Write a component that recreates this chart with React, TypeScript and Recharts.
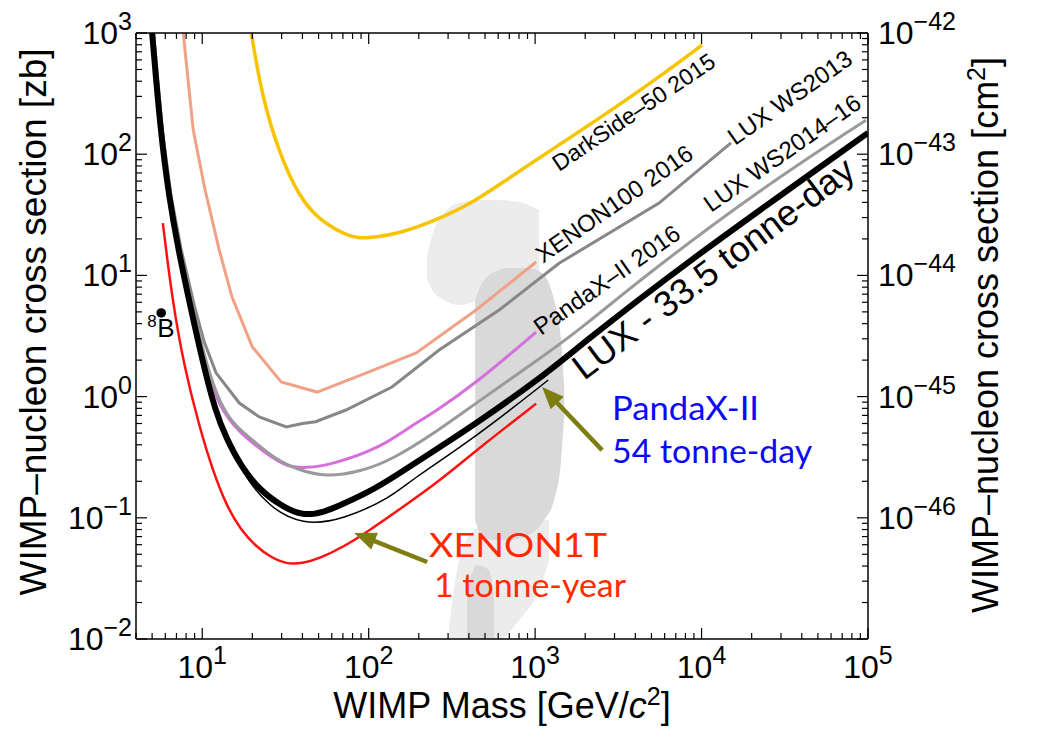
import React from 'react';
import {
  ComposedChart,
  Line,
  Area,
  Scatter,
  XAxis,
  YAxis,
  ReferenceLine,
  ReferenceDot,
} from 'recharts';

// ---------------- data (WIMP mass in GeV/c^2, cross section in zb) ----------------
const darksideMass = [19.7, 22.9, 29, 38.2, 50.4, 76.4, 96.6, 159, 254, 401, 698, 1337, 3066, 6120, 10070];
const darksideXsec = [1000, 296, 102, 44.4, 28.6, 20.7, 20, 22.4, 28.6, 38.1, 63.6, 115, 245, 477, 796];

const xenon100Mass = [7.69, 8.83, 10.4, 12.65, 15.1, 20, 29.8, 49, 97, 193, 442, 1014];
const xenon100Xsec = [1000, 158, 50.7, 16.2, 6.63, 2.57, 1.32, 1.09, 1.57, 2.29, 5.18, 12.9];

const lux2013Mass = [5.1, 5.75, 6.5, 7.5, 9.0, 10.3, 12.1, 16.7, 22, 32, 40, 48, 73, 138, 265, 608, 1393, 5556, 15030];
const lux2013Xsec = [1000, 160, 45, 16, 5.5, 2.8, 1.57, 0.885, 0.68, 0.561, 0.6, 0.62, 0.775, 1.2, 2.42, 5.18, 12.6, 39.5, 124];

const pandax2016Mass = [5.05, 5.65, 6.35, 7.3, 8.65, 10.2, 12.4, 16.7, 24, 32, 42, 60, 120, 175, 240, 442, 1014];
const pandax2016Xsec = [1000, 160, 45, 16, 5.5, 2.0, 0.85, 0.5, 0.343, 0.263, 0.257, 0.274, 0.384, 0.561, 0.72, 1.29, 3.41];

const lux1416Mass = [5.08, 5.7, 6.4, 7.35, 8.75, 10.4, 12.8, 16, 20, 27.8, 38, 55, 88, 138, 265, 442, 1100, 1840, 4390, 22140, 97200];
const lux1416Xsec = [1000, 160, 45, 16, 5.5, 2.0, 0.85, 0.56, 0.439, 0.3, 0.248, 0.217, 0.239, 0.3, 0.53, 0.885, 2.12, 3.54, 9.52, 50.7, 191];

const xenon1tMass = [5.8, 6.6, 7.8, 9.5, 11.5, 14, 17, 21, 26, 32, 40, 50, 70, 100, 150, 265, 442, 1014];
const xenon1tXsec = [27, 6.3, 1.75, 0.6, 0.25, 0.125, 0.08, 0.058, 0.047, 0.0415, 0.042, 0.046, 0.057, 0.078, 0.115, 0.2, 0.36, 0.875];

const pandax54Mass = [5.02, 5.62, 6.32, 7.22, 8.55, 10.05, 12.1, 14.2, 17.4, 25, 40, 70, 138, 175, 442, 1200];
const pandax54Xsec = [1000, 160, 45, 16, 5.5, 2.0, 0.75, 0.43, 0.234, 0.123, 0.087, 0.096, 0.149, 0.2, 0.465, 1.37];

const lux335Mass = [5.0, 5.6, 6.3, 7.2, 8.5, 10, 12, 14, 17, 22, 30, 40, 55, 70, 100, 140, 265, 442, 1100, 1840, 7000, 100000];
const lux335Xsec = [1000, 160, 45, 16, 5.5, 2.0, 0.75, 0.45, 0.27, 0.17, 0.125, 0.103, 0.112, 0.13, 0.163, 0.215, 0.38, 0.6, 1.45, 2.6, 11.1, 150];

// shaded model region (mass, [low, high] cross section)
const blobTopMass = [224.6, 240.6, 284, 349.5, 461, 608, 801.6, 1057];
const blobTopLow = [9.17, 7.58, 6.27, 5.7, 6.27, 7.58, 8.33, 10.1];
const blobTopHigh = [14.7, 21.5, 32.7, 39.6, 41.9, 41.9, 40.3, 34.6];

const blobBottomMass = [304.5, 349.5, 430, 608, 801.6, 1057, 1213];
const blobBottomLow = [0.01, 0.01, 0.01, 0.01, 0.01435, 0.0254, 0.0449];
const blobBottomHigh = [0.013, 0.0449, 0.0793, 0.096, 0.096, 0.096, 0.096];

const blobCoreMass = [436, 474, 567, 698, 920, 1132, 1300, 1432, 1494];
const blobCoreLow = [0.096, 0.0721, 0.0656, 0.0656, 0.0721, 0.096, 0.14, 0.3, 0.7];
const blobCoreHigh = [6.27, 8.33, 10.66, 11.5, 11.5, 10.1, 6.27, 3.0, 1.2];

const blobFootMass = [390.5, 448, 529, 567];
const blobFootLow = [0.01, 0.01, 0.01, 0.01];
const blobFootHigh = [0.0254, 0.0408, 0.037, 0.021];

const boronPoint = [{ x: 5.67, y: 4.9 }];

// axis ticks
const xLabelExps = [1, 2, 3, 4, 5];
const zbLabelExps = [-2, -1, 0, 1, 2, 3];
const cmLabelExps = [-46, -45, -44, -43, -42];
const minorMults = [2, 3, 4, 5, 6, 7, 8, 9];

const logTicks = (e0: number, e1: number, lo: number, hi: number) => {
  const out: number[] = [];
  for (let e = e0; e <= e1; e++) {
    const base = Math.pow(10, e);
    out.push(base);
    if (e < e1) minorMults.forEach((m) => out.push(m * base));
  }
  return out.filter((v) => v >= lo * 0.999 && v <= hi * 1.001);
};
const xTicks = logTicks(0, 5, 4, 1e5);
const zbTicks = logTicks(-2, 3, 0.01, 1000);
const cmTicks = logTicks(-47, -42, 1e-47, 1e-42);

const pts = (m: number[], s: number[]) => m.map((x, i) => ({ x, y: s[i] }));
const rng = (m: number[], lo: number[], hi: number[]) => m.map((x, i) => ({ x, r: [lo[i], hi[i]] }));

// ---------------- styling ----------------
const W = 1029;
const H = 720;
const SANS = "'Liberation Sans', Arial, Helvetica, sans-serif";
const HUMAN = "Lato, 'Open Sans', sans-serif";
const MAJ = 11;
const MIN = 6;
const ARROW = '#7d7d12';

const isPow = (v: number) => Math.abs(Math.log10(v) - Math.round(Math.log10(v))) < 1e-6;
const expOf = (v: number) => Math.round(Math.log10(v));
const expText = (e: number) => (e < 0 ? '\u2212' + Math.abs(e) : String(e));

const Pow = ({ x, y, e, anchor }: any) => (
  <text x={x} y={y} textAnchor={anchor} fontFamily={SANS} fontSize={32} fill="#000">
    10
    <tspan dy={-14} fontSize={25}>
      {expText(e)}
    </tspan>
  </text>
);

const BottomTick = (p: any) => {
  const v = p.payload.value;
  const major = isPow(v);
  return (
    <g>
      <line x1={p.x} x2={p.x} y1={p.y} y2={p.y - (major ? MAJ : MIN)} stroke="#000" strokeWidth={1.2} />
      {major && xLabelExps.includes(expOf(v)) && <Pow x={p.x} y={p.y + 39} e={expOf(v)} anchor="middle" />}
    </g>
  );
};
const TopTick = (p: any) => {
  const major = isPow(p.payload.value);
  return <line x1={p.x} x2={p.x} y1={p.y} y2={p.y + (major ? MAJ : MIN)} stroke="#000" strokeWidth={1.2} />;
};
const LeftTick = (p: any) => {
  const v = p.payload.value;
  const major = isPow(v);
  return (
    <g>
      <line x1={p.x} x2={p.x + (major ? MAJ : MIN)} y1={p.y} y2={p.y} stroke="#000" strokeWidth={1.2} />
      {major && zbLabelExps.includes(expOf(v)) && <Pow x={p.x - 4} y={p.y + 11} e={expOf(v)} anchor="end" />}
    </g>
  );
};
const RightTick = (p: any) => {
  const v = p.payload.value;
  const major = isPow(v);
  return (
    <g>
      <line x1={p.x} x2={p.x - (major ? MAJ : MIN)} y1={p.y} y2={p.y} stroke="#000" strokeWidth={1.2} />
      {major && cmLabelExps.includes(expOf(v)) && <Pow x={p.x + 10} y={p.y + 11} e={expOf(v)} anchor="start" />}
    </g>
  );
};

const bottomTitle = (p: any) => {
  const vb = p.viewBox;
  return (
    <text x={vb.x + vb.width / 2} y={vb.y + 79} textAnchor="middle" fontFamily={SANS} fontSize={36} fill="#000">
      WIMP Mass [GeV/<tspan fontStyle="italic">c</tspan>
      <tspan dy={-13} fontSize={25}>2</tspan>
      <tspan dy={13}>]</tspan>
    </text>
  );
};
const leftTitle = (p: any) => {
  const vb = p.viewBox;
  const cx = vb.x + 38;
  const cy = vb.y + vb.height / 2 - 14;
  return (
    <text x={cx} y={cy} transform={`rotate(-90 ${cx} ${cy})`} textAnchor="middle" fontFamily={SANS} fontSize={37} fill="#000">
      WIMP–nucleon cross section [zb]
    </text>
  );
};
const rightTitle = (p: any) => {
  const vb = p.viewBox;
  const cx = vb.x + 130;
  const cy = vb.y + vb.height / 2 - 1;
  return (
    <text x={cx} y={cy} transform={`rotate(-90 ${cx} ${cy})`} textAnchor="middle" fontFamily={SANS} fontSize={36} fill="#000">
      WIMP–nucleon cross section [cm
      <tspan dy={-13} fontSize={25}>2</tspan>
      <tspan dy={13}>]</tspan>
    </text>
  );
};

// rotated curve labels, anchored in data coordinates
const curveLabels = [
  { text: 'DarkSide–50 2015', x: 1393, y: 71.3, size: 23, angle: -34 },
  { text: 'XENON100 2016', x: 1117, y: 12.5, size: 24, angle: -35 },
  { text: 'LUX WS2013', x: 15890, y: 116.9, size: 24, angle: -35 },
  { text: 'PandaX–II 2016', x: 1086, y: 3.16, size: 24, angle: -35 },
  { text: 'LUX WS2014–16', x: 11400, y: 32.7, size: 24, angle: -35 },
  { text: 'LUX - 33.5 tonne-day', x: 1968, y: 1.345, size: 36, angle: -37 },
];

const flatLabels = [
  { text: 'XENON1T', x: 230.7, y: 0.0475, color: '#ff2a00', len: 178 },
  { text: '1 tonne-year', x: 247, y: 0.0222, color: '#ff2a00', len: 192 },
  { text: 'PandaX-II', x: 2900, y: 0.641, color: '#0a0af5', len: 147 },
  { text: '54 tonne-day', x: 2900, y: 0.283, color: '#0a0af5', len: 200 },
];

const arrows = [
  { from: { x: 2526, y: 0.362 }, to: { x: 1101, y: 1.2 } },
  { from: { x: 224.6, y: 0.0432 }, to: { x: 81.8, y: 0.075 } },
];

const rotLabelShape = (l: any) => (p: any) => (
  <text
    x={p.cx}
    y={p.cy}
    transform={`rotate(${l.angle} ${p.cx} ${p.cy})`}
    fontFamily={SANS}
    fontSize={l.size}
    fill="#000"
  >
    {l.text}
  </text>
);
const flatLabelShape = (l: any) => (p: any) => (
  <text x={p.cx} y={p.cy} fontFamily={HUMAN} fontSize={33} fill={l.color} textLength={l.len} lengthAdjust="spacingAndGlyphs">
    {l.text}
  </text>
);
const arrowShape = (p: any) => {
  const { x1, y1, x2, y2 } = p;
  const dx = x2 - x1;
  const dy = y2 - y1;
  const L = Math.hypot(dx, dy) || 1;
  const ux = dx / L;
  const uy = dy / L;
  const hl = 22;
  const hw = 9;
  const bx = x2 - ux * hl;
  const by = y2 - uy * hl;
  const poly = `${x2},${y2} ${bx - uy * hw},${by + ux * hw} ${bx + uy * hw},${by - ux * hw}`;
  return (
    <g>
      <line x1={x1} y1={y1} x2={bx + ux * 2} y2={by + uy * 2} stroke={ARROW} strokeWidth={4.5} />
      <polygon points={poly} fill={ARROW} />
    </g>
  );
};
const boronShape = (p: any) => (
  <g>
    <circle cx={p.cx} cy={p.cy} r={4.8} fill="#000" />
    <text x={p.cx - 14} y={p.cy + 14} fontFamily={SANS} fontSize={17} fill="#000">8</text>
    <text x={p.cx - 4} y={p.cy + 24} fontFamily={SANS} fontSize={26} fill="#000">B</text>
  </g>
);

const axisLine = { stroke: '#000', strokeWidth: 1.5 };

export default function App() {
  return (
    <div style={{ width: W, height: H, background: '#fff' }}>
      <ComposedChart width={W} height={H} margin={{ top: 0, right: 0, bottom: 0, left: 0 }}>
        <XAxis
          xAxisId={0}
          dataKey="x"
          type="number"
          scale="log"
          domain={[4, 100000]}
          allowDataOverflow
          ticks={xTicks}
          interval={0}
          height={89}
          tickSize={0}
          tickMargin={0}
          tickLine={false}
          axisLine={axisLine}
          tick={<BottomTick />}
          label={bottomTitle}
        />
        <XAxis
          xAxisId="top"
          orientation="top"
          dataKey="x"
          type="number"
          scale="log"
          domain={[4, 100000]}
          allowDataOverflow
          ticks={xTicks}
          interval={0}
          height={25}
          tickSize={0}
          tickMargin={0}
          tickLine={false}
          axisLine={axisLine}
          tick={<TopTick />}
        />
        <YAxis
          yAxisId={0}
          type="number"
          scale="log"
          domain={[0.01, 1000]}
          allowDataOverflow
          ticks={zbTicks}
          interval={0}
          width={128}
          tickSize={0}
          tickMargin={0}
          tickLine={false}
          axisLine={axisLine}
          tick={<LeftTick />}
          label={leftTitle}
        />
        <YAxis
          yAxisId="right"
          orientation="right"
          type="number"
          scale="log"
          domain={[1e-47, 1e-42]}
          allowDataOverflow
          ticks={cmTicks}
          interval={0}
          width={169}
          tickSize={0}
          tickMargin={0}
          tickLine={false}
          axisLine={axisLine}
          tick={<RightTick />}
          label={rightTitle}
        />

        <Area data={rng(blobTopMass, blobTopLow, blobTopHigh)} dataKey="r" type="monotone" stroke="none" fill="#ececec" fillOpacity={1} isAnimationActive={false} />
        <Area data={rng(blobBottomMass, blobBottomLow, blobBottomHigh)} dataKey="r" type="monotone" stroke="none" fill="#ececec" fillOpacity={1} isAnimationActive={false} />
        <Area data={rng(blobCoreMass, blobCoreLow, blobCoreHigh)} dataKey="r" type="monotone" stroke="none" fill="#d9d9d9" fillOpacity={1} isAnimationActive={false} />
        <Area data={rng(blobFootMass, blobFootLow, blobFootHigh)} dataKey="r" type="monotone" stroke="none" fill="#d9d9d9" fillOpacity={1} isAnimationActive={false} />

        <Line data={pts(darksideMass, darksideXsec)} dataKey="y" type="basis" stroke="#f8c300" strokeWidth={3.5} dot={false} isAnimationActive={false} />
        <Line data={pts(xenon100Mass, xenon100Xsec)} dataKey="y" type="linear" stroke="#f0a286" strokeWidth={3} dot={false} isAnimationActive={false} />
        <Line data={pts(lux2013Mass, lux2013Xsec)} dataKey="y" type="linear" stroke="#878787" strokeWidth={3} dot={false} isAnimationActive={false} />
        <Line data={pts(pandax2016Mass, pandax2016Xsec)} dataKey="y" type="basis" stroke="#d66fdc" strokeWidth={3} dot={false} isAnimationActive={false} />
        <Line data={pts(lux1416Mass, lux1416Xsec)} dataKey="y" type="basis" stroke="#9a9a9a" strokeWidth={3} dot={false} isAnimationActive={false} />
        <Line data={pts(xenon1tMass, xenon1tXsec)} dataKey="y" type="basis" stroke="#ff1010" strokeWidth={2.5} dot={false} isAnimationActive={false} />
        <Line data={pts(lux335Mass, lux335Xsec)} dataKey="y" type="basis" stroke="#000" strokeWidth={6} dot={false} isAnimationActive={false} />
        <Line data={pts(pandax54Mass, pandax54Xsec)} dataKey="y" type="basis" stroke="#000" strokeWidth={1.5} dot={false} isAnimationActive={false} />

        <Scatter data={boronPoint} dataKey="y" shape={boronShape} isAnimationActive={false} />

        {arrows.map((a, i) => (
          <ReferenceLine key={'a' + i} segment={[a.from, a.to]} shape={arrowShape} ifOverflow="visible" />
        ))}
        {curveLabels.map((l, i) => (
          <ReferenceDot key={'c' + i} x={l.x} y={l.y} r={0} shape={rotLabelShape(l)} ifOverflow="visible" />
        ))}
        {flatLabels.map((l, i) => (
          <ReferenceDot key={'f' + i} x={l.x} y={l.y} r={0} shape={flatLabelShape(l)} ifOverflow="visible" />
        ))}
      </ComposedChart>
    </div>
  );
}
